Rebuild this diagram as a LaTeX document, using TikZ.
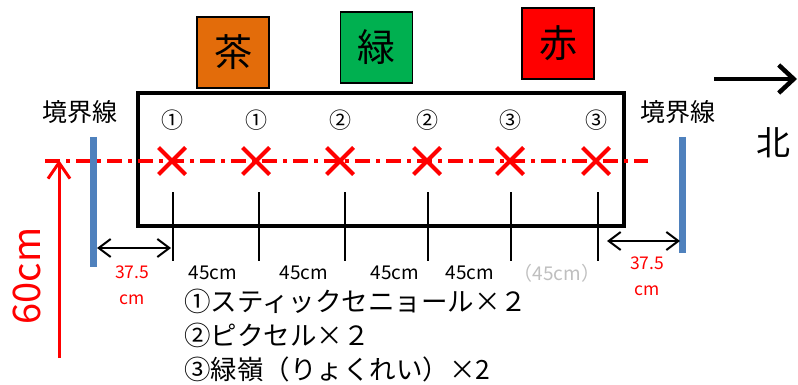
\documentclass[tikz,border=0pt]{standalone}
\usepackage{fontspec}
\setmainfont{Noto Sans CJK JP}
\usepackage{xcolor}
\usepackage{tikz}
\usetikzlibrary{arrows.meta,positioning,shapes.misc}
\definecolor{laranja}{RGB}{227,108,10}
\definecolor{verde}{RGB}{0,176,80}
\definecolor{vermelho}{RGB}{255,0,0}
\definecolor{azullimite}{RGB}{79,129,189}
\definecolor{cinzaclaro}{RGB}{191,191,191}
\tikzset{
  caixa/.style={rectangle,draw=black,line width=1.2pt,minimum width=72pt,
    minimum height=71pt,inner sep=0pt,font=\fontsize{38}{38}\selectfont},
  canteiro/.style={draw=black,line width=4.5pt},
  marca/.style={cross out,draw=vermelho,line width=4pt,minimum size=23pt,
    inner sep=0pt},
  numero/.style={inner sep=0pt,font=\fontsize{22}{22}\selectfont},
  linha/.style={draw=vermelho,line width=3.5pt,
    dash pattern=on 15pt off 6pt on 4pt off 6pt},
  limite/.style={draw=azullimite,line width=7pt},
  regua/.style={draw=black,line width=1.3pt},
  cota/.style={{Straight Barb[length=12pt,width=18pt]}-{Straight Barb[length=12pt,width=18pt]},
    line width=2pt},
  rotulo/.style={inner sep=0pt,font=\fontsize{19}{19}\selectfont},
  rotuloverm/.style={inner sep=0pt,align=center,text=vermelho,
    font=\fontsize{17.5}{26}\selectfont},
  titulo/.style={inner sep=0pt,font=\fontsize{25}{25}\selectfont},
  seta/.style={-{Straight Barb[length=15pt,width=28pt]},line width=4.5pt}
}
\begin{document}
\begin{tikzpicture}[x=1pt,y=-1pt]
\useasboundingbox (0,0) rectangle (798,385);
\node[caixa,fill=laranja] (cha) at (233,52.5) {茶};
\node[caixa,fill=verde] (verde) at (376.5,47.5) {緑};
\node[caixa,fill=vermelho] (verm) at (558,43.5) {赤};
\draw[canteiro] (138,93) rectangle (624,226);
\coordinate (li) at (45,161);
\coordinate (lf) at (648,161);
\draw[linha] (li) -- (lf);
\foreach \i/\x/\n in {1/172/①,2/256/①,3/340/②,4/427/②,5/510/③,6/596/③}{
  \node[marca] (m\i) at (\x,161) {};
  \node[numero,above=17pt of m\i] (n\i) {\n};
}
\foreach \i/\x in {1/173,2/259,3/345,4/428,5/511,6/598}{
  \coordinate (t\i) at (\x,192);
  \coordinate (b\i) at (\x,261);
  \draw[regua] (t\i) -- (b\i);
}
\foreach \i/\x in {1/213,2/304,3/395,4/470}{
  \node[rotulo] (d\i) at (\x,273) {45cm};
}
\node[rotulo,text=cinzaclaro] (d5) at (557,273) {（45cm）};
\coordinate (ea) at (93,137);
\coordinate (eb) at (93,267);
\coordinate (da) at (682,137);
\coordinate (db) at (682,253);
\draw[limite] (ea) -- (eb);
\draw[limite] (da) -- (db);
\node[titulo] (le) at (80,112) {境界線};
\node[titulo] (ld) at (678,112) {境界線};
\coordinate (ce1) at (97,248);
\coordinate (cd1) at (171,248);
\coordinate (ce2) at (607,241);
\coordinate (cd2) at (680,241);
\draw[cota] (ce1) -- (cd1);
\draw[cota] (ce2) -- (cd2);
\node[rotuloverm] (r1) at (132,285) {37.5\\cm};
\node[rotuloverm] (r2) at (647,276) {37.5\\cm};
\coordinate (na) at (714,79);
\coordinate (nb) at (797,79);
\draw[seta] (na) -- (nb);
\node[inner sep=0pt,font=\fontsize{34}{34}\selectfont] (norte) at (773,143) {北};
\coordinate (ha) at (59,358);
\coordinate (hb) at (59,160);
\draw[vermelho,line width=3pt,-{Straight Barb[length=16pt,width=22pt]}] (ha) -- (hb);
\node[inner sep=0pt,rotate=90,text=vermelho,font=\fontsize{38}{38}\selectfont] (alt) at (27,276) {60cm};
\node[inner sep=0pt,anchor=north west,align=left,font=\fontsize{26.5}{34}\selectfont] (leg) at (184,289)
  {①スティックセニョール×２\\②ピクセル×２\\③緑嶺（りょくれい）×2};
\end{tikzpicture}
\end{document}
